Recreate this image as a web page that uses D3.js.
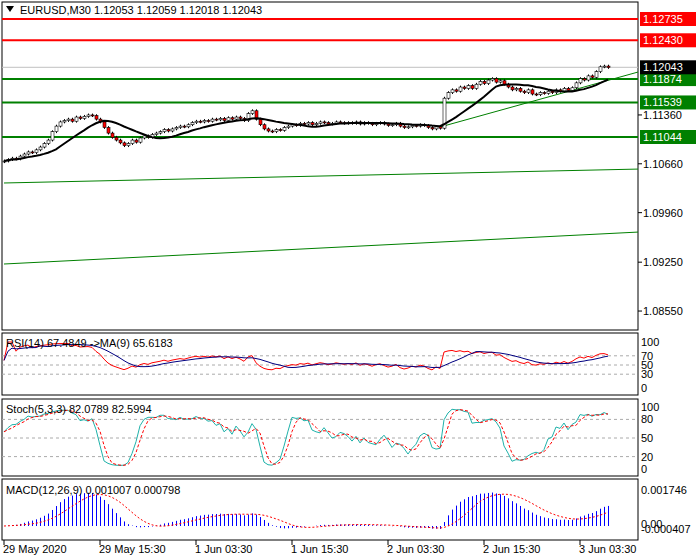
<!DOCTYPE html><html><head><meta charset="utf-8">
<script src="https://cdn.jsdelivr.net/npm/d3@7"></script>
<style>body{margin:0;background:#fff}text{font-family:"Liberation Sans",Arial,sans-serif;font-size:11px}</style></head><body>
<svg id="c" width="700" height="560"></svg>
<script>
// closes in pips above 1.1000
const closesPips=[70,72,74,73,77,80,83,82,86,90,95,100,112,120,
126,128,130,127,133,131,134,136,135,130,126,
118,110,104,100,96,92,95,
100,97,103,106,104,108,
110,112,115,113,116,118,120,119,122,125,127,126,128,
127,130,129,131,128,132,130,133,131,128,138,142,
130,122,116,113,112,115,114,118,
120,122,121,124,123,125,122,124,126,125,123,124,126,125,124,
125,124,126,123,125,124,122,124,125,123,121,122,124,120,118,119,121,120,122,121,
118,116,119,117,
160,168,172,170,176,174,
178,174,180,184,181,186,188,183,185,
180,176,172,174,170,168,172,166,165,168,
167,170,168,172,170,174,171,175,
182,188,186,192,190,198,
205,206,204];
const redLevels=[1.12735,1.12430];
const greenLevels=[1.11874,1.11539,1.11044];
const lastPrice=1.12043;
const plainTicks=[1.11360,1.10660,1.09960,1.09250,1.08550];
const channelLines=[[0,1.10385,159,1.10585],[0,1.09224,159,1.09683]];
const trendLine=[109,1.11187,158.5,1.11975];
const timeLabels=["29 May 2020","29 May 15:30","1 Jun 03:30","1 Jun 15:30","2 Jun 03:30","2 Jun 15:30","3 Jun 03:30"];
const timeLabelIdx=[0,24,48,72,96,120,144];
const header="EURUSD,M30  1.12053 1.12059 1.12018 1.12043";

const svg=d3.select("#c");
const closes=closesPips.map(v=>1.1+v/10000);
const opens=closes.map((c,i)=>i?closes[i-1]:c-0.0001);
const W=0.0002;
const highs=closes.map((c,i)=>Math.max(c,opens[i])+W), lows=closes.map((c,i)=>Math.min(c,opens[i])-W);
const x=d3.scaleLinear().domain([0,159]).range([4,640]);
const y=d3.scaleLinear().domain([1.11044,1.12735]).range([137,19]);
const L=2,R=638;
// frames
const panels=[[2,330],[333,395],[399,476],[479,540]];
panels.forEach(([a,b])=>svg.append("rect").attr("x",L).attr("y",a).attr("width",R-L).attr("height",b-a).attr("fill","none").attr("stroke","#000"));
const main=svg.append("g").attr("clip-path","url(#cm)");
svg.append("clipPath").attr("id","cm").append("rect").attr("x",L).attr("y",2).attr("width",R-L).attr("height",328);
// channel lines
channelLines.forEach(c=>main.append("line").attr("x1",x(c[0])).attr("y1",y(c[1])).attr("x2",x(c[2])).attr("y2",y(c[3])).attr("stroke","#008000"));
main.append("line").attr("x1",L).attr("x2",R).attr("y1",y(lastPrice)).attr("y2",y(lastPrice)).attr("stroke","#c0c0c0");
redLevels.forEach(p=>main.append("line").attr("x1",L).attr("x2",R).attr("y1",y(p)).attr("y2",y(p)).attr("stroke","#f00").attr("stroke-width",2));
greenLevels.forEach(p=>main.append("line").attr("x1",L).attr("x2",R).attr("y1",y(p)).attr("y2",y(p)).attr("stroke","#008000").attr("stroke-width",2));
main.append("line").attr("x1",x(trendLine[0])).attr("y1",y(trendLine[1])).attr("x2",x(trendLine[2])).attr("y2",y(trendLine[3])).attr("stroke","#008000");
// candles
closes.forEach((c,i)=>{const o=opens[i],cx=x(i);
 main.append("line").attr("x1",cx+0.5).attr("x2",cx+0.5).attr("y1",y(highs[i])).attr("y2",y(lows[i])).attr("stroke","#000");
 main.append("rect").attr("x",cx-1).attr("width",3).attr("y",y(Math.max(o,c))).attr("height",Math.max(1,Math.abs(y(o)-y(c)))).attr("fill",c>=o?"#fff":"#f00").attr("stroke","#000").attr("stroke-width",0.6);});
// MA
const ma=closes.map((c,i)=>d3.mean(closes.slice(Math.max(0,i-13),i+1)));
main.append("path").attr("d",d3.line().x((d,i)=>x(i)).y(d=>y(d))(ma)).attr("fill","none").attr("stroke","#000").attr("stroke-width",2);
// right labels
function box(p,bg){const yy=y(p);svg.append("rect").attr("x",640).attr("y",yy-7).attr("width",56).attr("height",14).attr("fill",bg);
 svg.append("text").attr("x",643).attr("y",yy+4).attr("fill","#fff").text(p.toFixed(5));}
redLevels.forEach(p=>box(p,"#f00"));greenLevels.forEach(p=>box(p,"#008000"));box(lastPrice,"#000");
plainTicks.forEach(p=>{svg.append("line").attr("x1",638).attr("x2",642).attr("y1",y(p)).attr("y2",y(p)).attr("stroke","#000");
 svg.append("text").attr("x",643).attr("y",y(p)+4).text(p.toFixed(5));});
svg.append("path").attr("d","M6,6 L14,6 L10,12 Z").attr("fill","#000");
svg.append("text").attr("x",20).attr("y",14).text(header);
// RSI
const rsi=[];let ag=0,al=0;
closes.forEach((c,i)=>{if(i==0){rsi.push(60);return;}const d=c-closes[i-1];const g=Math.max(d,0),l=Math.max(-d,0);
 if(i<=14){ag=(ag*(i-1)+g)/i;al=(al*(i-1)+l)/i;}else{ag=(ag*13+g)/14;al=(al*13+l)/14;}
 rsi.push(al==0?100:100-100/(1+ag/al));});
const rsiMa=rsi.map((v,i)=>d3.mean(rsi.slice(Math.max(0,i-8),i+1)));
const yr=d3.scaleLinear().domain([0,100]).range([388,342]);
function grid(sc,vals,a){vals.forEach(v=>{if(a.includes(v))svg.append("line").attr("x1",L).attr("x2",R).attr("y1",sc(v)).attr("y2",sc(v)).attr("stroke","#aaa").attr("stroke-dasharray","3,3");
 svg.append("text").attr("x",641).attr("y",sc(v)+4).text(v);});}
grid(yr,[100,70,50,30,0],[70,50,30]);
const ln=(sc)=>d3.line().x((d,i)=>x(i)).y(d=>sc(d));
svg.append("path").attr("d",ln(yr)(rsi)).attr("fill","none").attr("stroke","#f00");
svg.append("path").attr("d",ln(yr)(rsiMa)).attr("fill","none").attr("stroke","#000080");
svg.append("text").attr("x",6).attr("y",347).text("RSI(14) 67.4849  ->MA(9) 65.6183");
// Stoch
const ys=d3.scaleLinear().domain([0,100]).range([469,407]);
const kraw=closes.map((c,i)=>{const h=d3.max(highs.slice(Math.max(0,i-4),i+1)),l=d3.min(lows.slice(Math.max(0,i-4),i+1));return {c:c-l,r:h-l};});
const k=kraw.map((d,i)=>{const s=kraw.slice(Math.max(0,i-2),i+1);return 100*d3.sum(s,e=>e.c)/d3.sum(s,e=>e.r);});
const ds=k.map((v,i)=>d3.mean(k.slice(Math.max(0,i-2),i+1)));
grid(ys,[100,80,50,20,0],[80,50,20]);
svg.append("path").attr("d",ln(ys)(k)).attr("fill","none").attr("stroke","#20b2aa");
svg.append("path").attr("d",ln(ys)(ds)).attr("fill","none").attr("stroke","#f00").attr("stroke-dasharray","3,2");
svg.append("text").attr("x",6).attr("y",413).text("Stoch(5,3,3) 82.0789 82.5994");
// MACD
const ema=(arr,n)=>{const a=2/(n+1);let e=arr[0];return arr.map(v=>e=e+a*(v-e));};
const e12=ema(closes,12),e26=ema(closes,26);
const macd=e12.map((v,i)=>v-e26[i]);
const sig=macd.map((v,i)=>d3.mean(macd.slice(Math.max(0,i-8),i+1)));
const ym=d3.scaleLinear().domain([0,0.001746]).range([526,490]);
macd.forEach((v,i)=>svg.append("line").attr("x1",x(i)+0.5).attr("x2",x(i)+0.5).attr("y1",ym(0)).attr("y2",ym(v)).attr("stroke","#0000ff"));
svg.append("path").attr("d",ln(ym)(sig)).attr("fill","none").attr("stroke","#f00").attr("stroke-dasharray","2,2");
svg.append("text").attr("x",641).attr("y",494).text("0.001746");
svg.append("text").attr("x",641).attr("y",528).text("0.00");
svg.append("text").attr("x",641).attr("y",533).text("-0.000407");
svg.append("text").attr("x",6).attr("y",494).text("MACD(12,26,9) 0.001007 0.000798");
// time axis
timeLabelIdx.forEach((t,j)=>{const xx=x(t);svg.append("line").attr("x1",xx).attr("x2",xx).attr("y1",540).attr("y2",545).attr("stroke","#000");
 svg.append("text").attr("x",xx-1).attr("y",553).text(timeLabels[j]);});
</script></body></html>
